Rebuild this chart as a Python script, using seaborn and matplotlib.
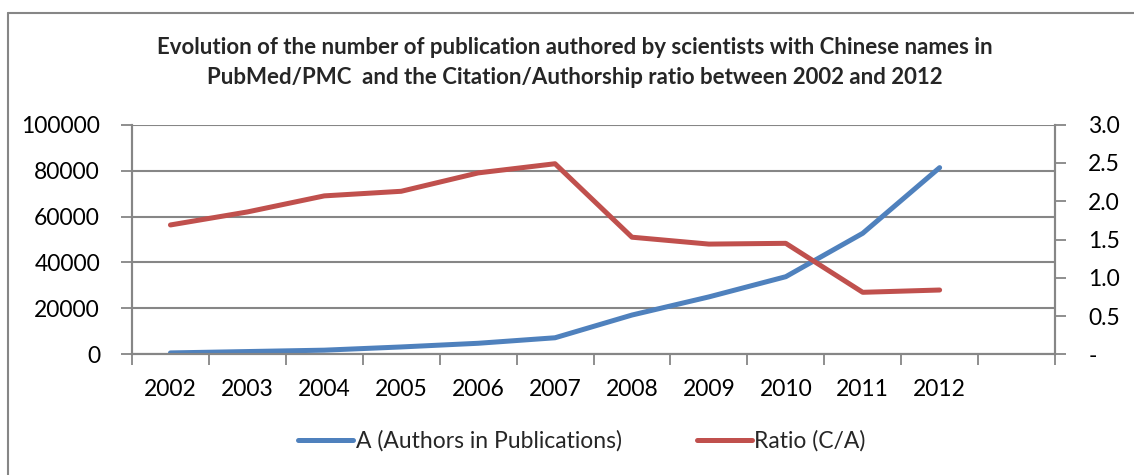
import matplotlib
matplotlib.use("Agg")
import matplotlib.pyplot as plt
from matplotlib.lines import Line2D
from matplotlib.ticker import FixedLocator, FuncFormatter
import seaborn as sns
import pandas as pd

years = ["2002", "2003", "2004", "2005", "2006", "2007",
         "2008", "2009", "2010", "2011", "2012"]
authors = [600, 1200, 1800, 3200, 4800, 7200,
           17100, 25000, 33800, 52700, 81300]
ratio = [1.69, 1.86, 2.07, 2.13, 2.37, 2.49,
         1.53, 1.44, 1.45, 0.81, 0.84]

BLUE = "#4F81BD"
RED = "#C0504D"
GRID = "#868686"

sns.set_theme(style="white")
plt.rcParams["font.family"] = ["Lato", "DejaVu Sans"]

df = pd.DataFrame({"pos": range(len(years)), "year": years,
                   "authors": authors, "ratio": ratio})

fig = plt.figure(figsize=(11.34, 4.75), dpi=100)
ax = fig.add_axes([132 / 1134, 1 - 354.3 / 475, (1055 - 132) / 1134, (354.3 - 124.7) / 475])
ax2 = ax.twinx()

sns.lineplot(data=df, x="pos", y="authors", ax=ax, color=BLUE, linewidth=3.6,
             solid_capstyle="round", label="A (Authors in Publications)", legend=False)
sns.lineplot(data=df, x="pos", y="ratio", ax=ax2, color=RED, linewidth=3.6,
             solid_capstyle="round", label="Ratio (C/A)", legend=False)

# one spare empty category slot after the last year
n_slots = len(years) + 1
ax.set_xlim(-0.5, n_slots - 0.5)
ax.set_ylim(0, 100000)
ax2.set_ylim(0, 3.0)

ax.set_yticks(range(0, 100001, 20000))
ax.set_yticklabels([str(v) for v in range(0, 100001, 20000)])
ax2.set_yticks([0, 0.5, 1.0, 1.5, 2.0, 2.5, 3.0])
ax2.yaxis.set_major_formatter(FuncFormatter(lambda v, p: "-" if abs(v) < 1e-9 else f"{v:.1f}"))

ax.set_xticks(range(len(years)))
ax.set_xticklabels(years)
ax.xaxis.set_minor_locator(FixedLocator([i - 0.5 for i in range(n_slots + 1)]))
ax.tick_params(axis="x", which="major", length=0, pad=18, labelsize=16.5, colors="black")
ax.tick_params(axis="x", which="minor", length=8, width=1.3, color=GRID, direction="out", bottom=True)
ax.tick_params(axis="y", length=8, width=1.3, color=GRID, direction="out", left=True,
               labelsize=16.5, pad=15, labelcolor="black")
ax2.tick_params(axis="y", length=8, width=1.3, color=GRID, direction="out", right=True,
                labelsize=16.5, pad=16, labelcolor="black")

ax.set_xlabel("")
ax.set_ylabel("")
ax2.set_ylabel("")
ax.grid(axis="y", color=GRID, linewidth=1.5)
ax.set_axisbelow(True)
for a in (ax, ax2):
    a.spines["top"].set_visible(False)
    for side in ("left", "right", "bottom"):
        a.spines[side].set_color(GRID)
        a.spines[side].set_linewidth(1.5)

fig.text(575 / 1134, 1 - 47 / 475,
         "Evolution of the number of publication authored by scientists with Chinese names in",
         ha="center", va="center", fontsize=16, fontweight="bold")
fig.text(575 / 1134, 1 - 78 / 475,
         "PubMed/PMC  and the Citation/Authorship ratio between 2002 and 2012",
         ha="center", va="center", fontsize=16, fontweight="bold")

handles = [Line2D([], [], color=BLUE, linewidth=3.6),
           Line2D([], [], color=RED, linewidth=3.6)]
fig.legend(handles, ["A (Authors in Publications)", "Ratio (C/A)"],
           loc="center", bbox_to_anchor=(582 / 1134, 1 - 441 / 475), ncol=2, frameon=False,
           fontsize=16.5, handlelength=2.4, handletextpad=0.1, columnspacing=3.3)

# chart frame
fig.add_artist(Line2D([8 / 1134, 1.0], [1 - 13 / 475, 1 - 13 / 475],
                      transform=fig.transFigure, color=GRID, linewidth=1.5))
fig.add_artist(Line2D([8 / 1134, 8 / 1134], [0, 1 - 13 / 475],
                      transform=fig.transFigure, color=GRID, linewidth=1.5))

fig.savefig("out.png", dpi=100, facecolor="white")
